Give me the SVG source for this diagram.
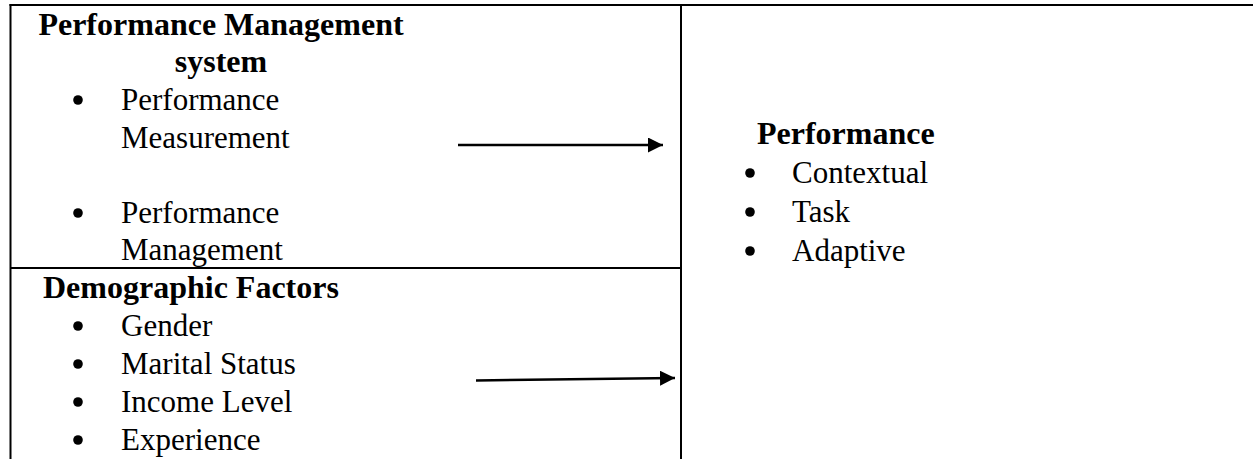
<svg xmlns="http://www.w3.org/2000/svg" width="1253" height="459" viewBox="0 0 1253 459">
<style>
.t{font-family:"Liberation Serif","Times New Roman",serif;font-size:31px;fill:#000}
.b{font-weight:bold;font-size:32px}
.ln{stroke:#000;stroke-width:2;fill:none}
.ar{stroke:#000;stroke-width:2.5;fill:none}
.bl{fill:#000}
</style>
<defs>
<marker id="ah" markerWidth="15" markerHeight="15" refX="15" refY="7.5" orient="auto" markerUnits="userSpaceOnUse">
<path d="M0,0 L15,7.5 L0,15 Z" fill="#000"/>
</marker>
</defs>
<rect width="1253" height="459" fill="#fff"/>
<g id="table">
<line class="ln" x1="9.5" y1="5" x2="1253" y2="5"/>
<line class="ln" x1="10.5" y1="4" x2="10.5" y2="459"/>
<line class="ln" x1="681" y1="4" x2="681" y2="459"/>
<line class="ln" x1="10" y1="268" x2="681" y2="268"/>
</g>
<g id="node-pms">
<text class="t b" x="221" y="35" text-anchor="middle">Performance Management</text>
<text class="t b" x="221" y="72" text-anchor="middle">system</text>
<circle class="bl" cx="78" cy="100" r="4.8"/><text class="t" x="121" y="110">Performance</text>
<text class="t" x="121" y="148">Measurement</text>
<circle class="bl" cx="78" cy="213" r="4.8"/><text class="t" x="121" y="223">Performance</text>
<text class="t" x="121" y="260">Management</text>
</g>
<g id="node-demo">
<text class="t b" x="43" y="298">Demographic Factors</text>
<circle class="bl" cx="78" cy="326" r="4.8"/><text class="t" x="121" y="336">Gender</text>
<circle class="bl" cx="78" cy="364" r="4.8"/><text class="t" x="121" y="374">Marital Status</text>
<circle class="bl" cx="78" cy="402" r="4.8"/><text class="t" x="121" y="412">Income Level</text>
<circle class="bl" cx="78" cy="440" r="4.8"/><text class="t" x="121" y="450">Experience</text>
</g>
<g id="node-perf">
<text class="t b" x="757" y="144">Performance</text>
<circle class="bl" cx="750" cy="173" r="4.8"/><text class="t" x="792" y="183">Contextual</text>
<circle class="bl" cx="750" cy="212" r="4.8"/><text class="t" x="792" y="222">Task</text>
<circle class="bl" cx="750" cy="251" r="4.8"/><text class="t" x="792" y="261">Adaptive</text>
</g>
<g id="connectors">
<line class="ar" x1="458" y1="145" x2="663" y2="145" marker-end="url(#ah)"/>
<line class="ar" x1="476" y1="380.5" x2="675" y2="378" marker-end="url(#ah)"/>
</g>
</svg>
